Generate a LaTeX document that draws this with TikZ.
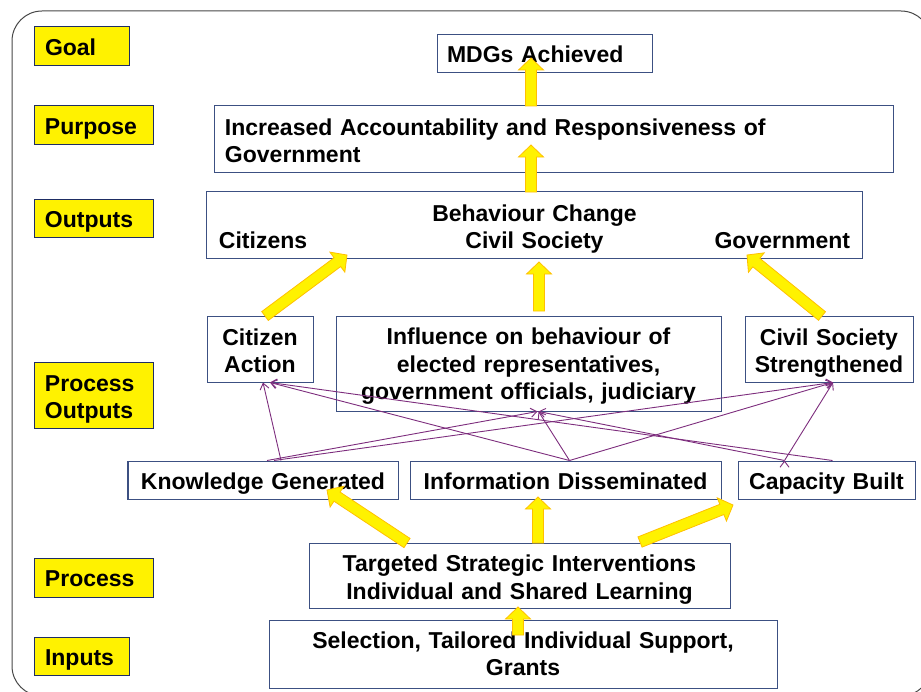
\documentclass[tikz,border=0pt]{standalone}
\usepackage{fontspec}
\setmainfont{Liberation Sans}
\usetikzlibrary{calc,arrows.meta}
\definecolor{boxblue}{RGB}{60,80,130}
\definecolor{labnavy}{RGB}{30,45,100}
\definecolor{linkpurple}{RGB}{125,45,125}
\definecolor{arrowgold}{RGB}{255,192,0}
\definecolor{framegray}{RGB}{70,70,70}

\begin{document}
\begin{tikzpicture}[x=1bp,y=-1bp,>={Straight Barb[length=6bp,width=9bp]},
  box/.style={draw=boxblue,fill=white,line width=1bp,inner xsep=10bp,inner ysep=0pt,align=center,font=\fontsize{23bp}{27.5bp}\selectfont\bfseries},
  lab/.style={box,fill=yellow,draw=labnavy,align=left},
  oneline/.style={text height=19bp,text depth=1bp},
  twoline/.style={text height=18bp,text depth=25.6bp},
  threeline/.style={text height=18bp,text depth=56bp},
  link/.style={->,draw=linkpurple,line width=0.9bp},
  fat/.style={draw=arrowgold,fill=yellow,line width=0.8bp,to path={
    ($(\tikztostart)!5.5bp!90:(\tikztotarget)$)
    -- ($($(\tikztotarget)!12bp!(\tikztostart)$)!5.5bp!-90:(\tikztostart)$)
    -- ($($(\tikztotarget)!12bp!(\tikztostart)$)!12.5bp!-90:(\tikztostart)$)
    -- (\tikztotarget)
    -- ($($(\tikztotarget)!12bp!(\tikztostart)$)!12.5bp!90:(\tikztostart)$)
    -- ($($(\tikztotarget)!12bp!(\tikztostart)$)!5.5bp!90:(\tikztostart)$)
    -- ($(\tikztostart)!5.5bp!-90:(\tikztotarget)$) -- cycle}}]
    \useasboundingbox (0,0) rectangle (921,692);
    \clip (0,0) rectangle (921,692);
    \draw[framegray,line width=1bp,rounded corners=30bp] (12,11) rectangle (931,696);

    % levels
    \node (12) [lab,oneline,text width=74bp,minimum height=39bp] at (82,46.5) {Goal};
    \node (13) [lab,oneline,text width=98bp,minimum height=39bp] at (94,125.5) {Purpose};
    \node (14) [lab,oneline,text width=98bp,minimum height=38bp] at (94,218) {Outputs};
    \node (15) [lab,twoline,text width=98bp,minimum height=66bp] at (94,395) {Process\\Outputs};
    \node (16) [lab,oneline,text width=98bp,minimum height=39bp] at (94,577.5) {Process};
    \node (17) [lab,oneline,text width=74bp,minimum height=38bp] at (82,656) {Inputs};

    \node (1) [box,oneline,align=left,text width=195bp,minimum height=38bp] at (544.5,54) {MDGs Achieved};
    \node (2) [box,twoline,align=left,text width=658bp,minimum height=66bp] at (554,139) {Increased Accountability and Responsiveness of\\Government};
    \node (3) [box,twoline,inner xsep=12bp,text width=631bp,minimum height=66bp] at (534.5,225)
        {Behaviour Change\\\makebox[631bp]{\rlap{Citizens}\hfill Civil Society\hfill\llap{Government}}};

    \node (4) [box,twoline,text width=86bp,minimum height=66bp] at (260,349) {Citizen\\Action};
    \node (5) [box,threeline,text width=365bp,minimum height=95bp] at (528.5,363.5) {Influence on behaviour of\\elected representatives,\\government officials, judiciary};
    \node (6) [box,twoline,inner xsep=9bp,text width=150bp,minimum height=66bp] at (829,349) {Civil Society\\Strengthened};

    \node (7) [box,oneline,text width=250bp,minimum height=38bp] at (263,480) {Knowledge Generated};
    \node (8) [box,oneline,text width=291bp,minimum height=38bp] at (565.5,480) {Information Disseminated};
    \node (9) [box,oneline,text width=157bp,minimum height=38bp] at (826.5,480) {Capacity Built};

    \node (10) [box,twoline,text width=401bp,minimum height=65bp] at (519.5,575.5) {Targeted Strategic Interventions\\Individual and Shared Learning};
    \node (11) [box,text width=488bp,minimum height=68bp] at (523,654) {Selection, Tailored Individual Support,\\Grants};

    \path[link]
        ([xshift=18bp]7.north) edge ([xshift=3bp]4.south)
        ([xshift=4bp]7.north) edge ([xshift=9bp]5.south)
        ([xshift=11bp]7.north) edge ([xshift=4bp]6.south)

        ([xshift=4bp]8.north) edge ([xshift=10bp]4.south)
        ([xshift=4bp]8.north) edge ([xshift=10bp]5.south)
        ([xshift=4bp]8.north) edge ([xshift=4bp]6.south)

        ([xshift=6bp]9.north) edge ([xshift=10bp]4.south)
        ([xshift=-42bp]9.north) edge ([xshift=10bp]5.south)
        ([xshift=-42bp]9.north) edge ([xshift=4bp]6.south)
    ;

    % block arrows
    \coordinate (a1) at (531,106); \coordinate (b1) at (531,58);
    \coordinate (a2) at (531,192); \coordinate (b2) at (531,145);
    \coordinate (a3) at (539,311); \coordinate (b3) at (539,262);
    \coordinate (a4) at (265,316); \coordinate (b4) at (347,255);
    \coordinate (a5) at (822,316); \coordinate (b5) at (747,255);
    \coordinate (a6) at (407,543); \coordinate (b6) at (327,490);
    \coordinate (a7) at (538,543); \coordinate (b7) at (538,497);
    \coordinate (a8) at (640,542); \coordinate (b8) at (733,505);
    \coordinate (a9) at (518,635); \coordinate (b9) at (518,607);

    \path (a1) edge[fat] (b1) (a2) edge[fat] (b2) (a3) edge[fat] (b3)
        (a4) edge[fat] (b4) (a5) edge[fat] (b5) (a6) edge[fat] (b6)
        (a7) edge[fat] (b7) (a8) edge[fat] (b8) (a9) edge[fat] (b9);
\end{tikzpicture}
\end{document}
